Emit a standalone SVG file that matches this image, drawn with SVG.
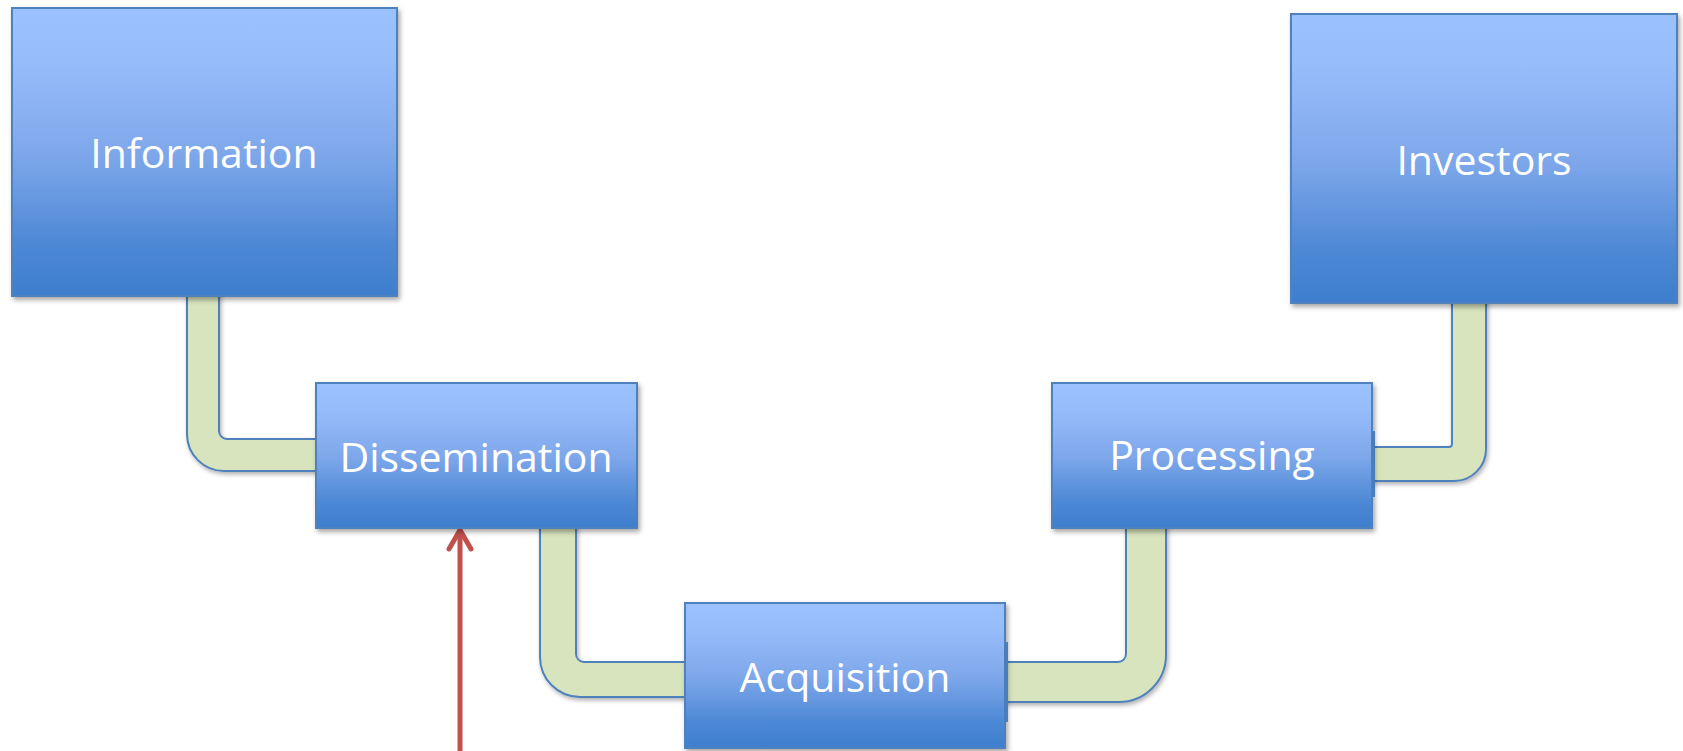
<svg xmlns="http://www.w3.org/2000/svg" width="1683" height="751" viewBox="0 0 1683 751">
  <defs>
    <linearGradient id="boxGrad" x1="0" y1="0" x2="0" y2="1">
      <stop offset="0" stop-color="#9bc1ff"/>
      <stop offset="0.18" stop-color="#97bcfa"/>
      <stop offset="0.5" stop-color="#7fa8eb"/>
      <stop offset="0.82" stop-color="#4d88d5"/>
      <stop offset="1" stop-color="#3e7ecd"/>
    </linearGradient>
    <filter id="shadow" x="-10%" y="-10%" width="125%" height="130%">
      <feDropShadow dx="2" dy="3" stdDeviation="2.5" flood-color="#000" flood-opacity="0.35"/>
    </filter>
    <filter id="pipeShadow" x="-10%" y="-10%" width="125%" height="130%">
      <feDropShadow dx="1.5" dy="2.5" stdDeviation="2" flood-color="#000" flood-opacity="0.3"/>
    </filter>
  </defs>
  <style>
    .box { fill: url(#boxGrad); stroke: #4f81bd; stroke-width: 2; filter: url(#shadow); }
    .label { fill: #ffffff; font-family: "Open Sans", "Liberation Sans", sans-serif; font-size: 41px; text-anchor: middle; }
    .pipe { fill: #d7e4bd; stroke: #4f81bd; stroke-width: 2; stroke-linejoin: round; filter: url(#pipeShadow); }
    .cap { fill: #4a7ebb; }
    .arrow { fill: none; stroke: #c0504d; stroke-width: 5; stroke-linecap: round; stroke-linejoin: round; }
  </style>
  <rect width="1683" height="751" fill="#ffffff"/>

  <g id="connectors">
    <path class="pipe" d="M187,290 L219,290 L219,431 A8,8 0 0 0 227,439 L320,439 L320,471 L224,471 A37,37 0 0 1 187,434 Z"/>
    <path class="pipe" d="M540,522 L576,522 L576,654 A8,8 0 0 0 584,662 L690,662 L690,697 L580,697 A40,40 0 0 1 540,657 Z"/>
    <path class="pipe" d="M1000,662 L1118,662 A8,8 0 0 0 1126,654 L1126,522 L1166,522 L1166,655 A47,47 0 0 1 1119,702 L1000,702 Z"/>
    <path class="pipe" d="M1368,447 L1449,447 A3,3 0 0 0 1452,444 L1452,298 L1486,298 L1486,449 A32,32 0 0 1 1454,481 L1368,481 Z"/>
    <path class="arrow" d="M460,751 L460,531"/>
    <polyline class="arrow" points="449,549 460,530 471,549"/>
  </g>

  <g id="information">
    <rect class="box" x="12" y="8" width="385" height="288"/>
    <text class="label" x="204" y="168">Information</text>
  </g>

  <g id="dissemination">
    <rect class="box" x="316" y="383" width="321" height="145"/>
    <text class="label" x="476" y="472">Dissemination</text>
  </g>

  <g id="acquisition">
    <rect class="box" x="685" y="603" width="320" height="145"/>
    <rect class="cap" x="1004" y="642" width="4" height="80"/>
    <text class="label" x="845" y="692">Acquisition</text>
  </g>

  <g id="processing">
    <rect class="box" x="1052" y="383" width="320" height="145"/>
    <rect class="cap" x="1372" y="431" width="3" height="66"/>
    <text class="label" x="1212" y="470">Processing</text>
  </g>

  <g id="investors">
    <rect class="box" x="1291" y="14" width="386" height="289"/>
    <text class="label" x="1484" y="175">Investors</text>
  </g>
</svg>
